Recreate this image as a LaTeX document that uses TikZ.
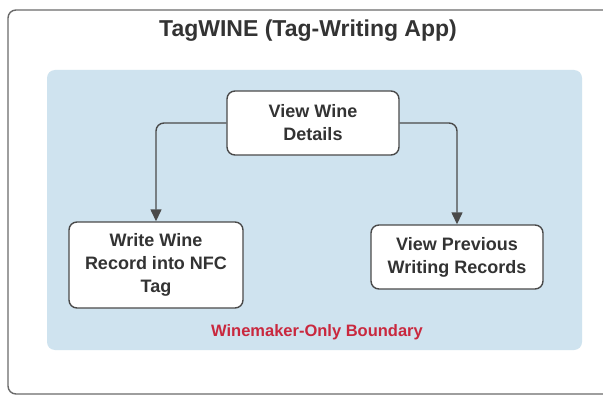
\documentclass[tikz,border=0pt]{standalone}
\usepackage{fontspec}
\setmainfont{Liberation Sans}
\usetikzlibrary{arrows.meta}
\definecolor{framegray}{HTML}{6A6A6A}
\definecolor{boxgray}{HTML}{4A4A4A}
\definecolor{txtgray}{HTML}{333333}
\definecolor{zoneblue}{HTML}{CFE3EF}
\definecolor{zonered}{HTML}{C9283E}
\tikzset{
  appbox/.style={draw=boxgray, line width=1.4pt, fill=white, rounded corners=8pt,
    align=center, text=txtgray, font=\fontsize{18}{23}\selectfont\bfseries, inner sep=0pt},
  flow/.style={draw=boxgray, line width=1.4pt, rounded corners=8pt,
    -{Triangle[width=11pt,length=12pt]}}
}
\begin{document}
\begin{tikzpicture}[x=1pt,y=-1pt]
\useasboundingbox (0,0) rectangle (603,396);
\clip (0,0) rectangle (603,396);
% outer frame
\draw[framegray, line width=1.4pt, rounded corners=8pt, fill=white] (8,10) rectangle (630,394);
\node[font=\fontsize{23}{27}\selectfont\bfseries, text=txtgray] (title) at (308,31) {TagWINE (Tag-Writing App)};
% boundary zone
\fill[zoneblue, rounded corners=8pt] (47,70) rectangle (582,350);
\node[font=\fontsize{16.5}{20}\selectfont\bfseries, text=zonered] (zone) at (317,332) {Winemaker-Only Boundary};
% boxes
\node[appbox, minimum width=172pt, minimum height=64pt] (details) at (313,123) {View Wine\\Details};
\node[appbox, minimum width=174pt, minimum height=86pt] (write) at (156,265) {Write Wine\\Record into NFC\\Tag};
\node[appbox, minimum width=172pt, minimum height=64pt] (prev) at (457,257) {View Previous\\Writing Records};
% connectors
\draw[flow] (details.west) -| (write.north);
\draw[flow] (details.east) -| (prev.north);
\end{tikzpicture}
\end{document}
